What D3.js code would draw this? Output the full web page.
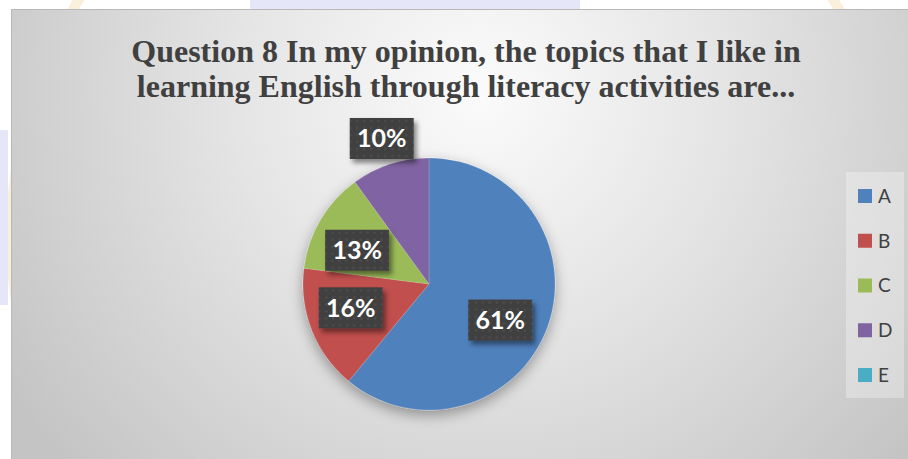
<!DOCTYPE html>
<html>
<head>
<meta charset="utf-8">
<script src="https://cdn.jsdelivr.net/npm/d3@7"></script>
<style>
  html, body { margin: 0; padding: 0; background: #ffffff; }
  svg { display: block; }
</style>
</head>
<body>
<svg id="chart" width="908" height="459"></svg>
<script>
// Survey answers for question 8 (share of respondents, %)
const categories = ["A", "B", "C", "D", "E"];
const values = [61, 16, 13, 10, 0];
const colors = ["#4f81bd", "#c0504d", "#9bbb59", "#8064a2", "#4bacc6"];
const titleLines = [
  "Question 8 In my opinion, the topics that I like in",
  "learning English through literacy activities are..."
];

const W = 908, H = 459;
const svg = d3.select("#chart");
const defs = svg.append("defs");

// chart backdrop gradient
const bg = defs.append("radialGradient").attr("id", "bgGrad")
  .attr("gradientUnits", "userSpaceOnUse")
  .attr("cx", 480).attr("cy", 90).attr("r", 560);
bg.append("stop").attr("offset", 0).attr("stop-color", "#fbfbfb");
bg.append("stop").attr("offset", 0.45).attr("stop-color", "#e4e4e4");
bg.append("stop").attr("offset", 1).attr("stop-color", "#c4c4c4");

// soft shadow for the pie
const pieShadow = defs.append("filter").attr("id", "pieShadow")
  .attr("x", "-20%").attr("y", "-20%").attr("width", "140%").attr("height", "140%");
pieShadow.append("feDropShadow").attr("dx", 0).attr("dy", 5)
  .attr("stdDeviation", 7).attr("flood-color", "#000").attr("flood-opacity", 0.35);

// shadow for data label boxes
const boxShadow = defs.append("filter").attr("id", "boxShadow")
  .attr("x", "-30%").attr("y", "-30%").attr("width", "160%").attr("height", "160%");
boxShadow.append("feDropShadow").attr("dx", 3).attr("dy", 4)
  .attr("stdDeviation", 2.5).attr("flood-color", "#000").attr("flood-opacity", 0.45);

// dotted texture for label boxes
const dots = defs.append("pattern").attr("id", "dots")
  .attr("patternUnits", "userSpaceOnUse").attr("width", 7).attr("height", 7);
dots.append("rect").attr("width", 7).attr("height", 7).attr("fill", "#3f3f3f");
dots.append("circle").attr("cx", 3.5).attr("cy", 3.5).attr("r", 1.3).attr("fill", "#4e4e4e");

// faint letterhead emblem behind the chart frame
const mark = svg.append("g").attr("opacity", 0.35);
mark.append("circle").attr("cx", 456).attr("cy", 236).attr("r", 445)
  .attr("fill", "none").attr("stroke", "#f0d49a").attr("stroke-width", 10);
mark.append("rect").attr("x", 250).attr("y", 0).attr("width", 330).attr("height", 10)
  .attr("fill", "#b9b9f0");
mark.append("rect").attr("x", 0).attr("y", 130).attr("width", 8).attr("height", 175)
  .attr("fill", "#b9b9f0");

// chart frame
svg.append("rect").attr("x", 11.5).attr("y", 9.5)
  .attr("width", W).attr("height", H)
  .attr("fill", "url(#bgGrad)").attr("stroke", "#b8b8b8").attr("stroke-width", 1);

// title
const title = svg.append("text")
  .attr("text-anchor", "middle")
  .attr("font-family", "'Liberation Serif', 'Times New Roman', serif")
  .attr("font-weight", "bold")
  .attr("font-size", 32)
  .attr("fill", "#404040");
titleLines.forEach((t, i) => {
  title.append("tspan").attr("x", 466).attr("y", 62 + i * 35).text(t);
});

// pie
const cx = 429, cy = 284, R = 126;
const pie = d3.pie().sort(null).value(d => d.value);
const arcs = pie(categories.map((c, i) => ({ cat: c, value: values[i], color: colors[i] })));
const arc = d3.arc().innerRadius(0).outerRadius(R);

const gPie = svg.append("g").attr("transform", `translate(${cx},${cy})`);
gPie.append("g").attr("filter", "url(#pieShadow)")
  .selectAll("path").data(arcs.filter(d => d.data.value > 0)).join("path")
  .attr("d", arc)
  .attr("fill", d => d.data.color)
  .attr("stroke", "#ffffff").attr("stroke-opacity", 0.25).attr("stroke-width", 0.6);

// data labels: inside for the large slices, outside for D
const labelRadius = { A: 80, B: 81, C: 80, D: 153 };
const labelNudge = { A: [-4, 9], B: [-3, -6], C: [-3, 7], D: [0, 0] };
const boxW = 64, boxH = 41;
const labels = gPie.append("g").selectAll("g")
  .data(arcs.filter(d => d.data.value > 0)).join("g")
  .attr("transform", d => {
    const r = labelRadius[d.data.cat];
    const [x, y] = d3.arc().innerRadius(r).outerRadius(r).centroid(d);
    const n = labelNudge[d.data.cat];
    return `translate(${x + n[0]},${y + n[1]})`;
  });
labels.append("rect")
  .attr("x", -boxW / 2).attr("y", -boxH / 2)
  .attr("width", boxW).attr("height", boxH)
  .attr("fill", "url(#dots)")
  .attr("filter", "url(#boxShadow)");
labels.append("text")
  .attr("text-anchor", "middle")
  .attr("dy", "0.36em")
  .attr("font-family", "Lato, 'Open Sans', sans-serif")
  .attr("font-weight", "bold")
  .attr("font-size", 25)
  .attr("fill", "#ffffff")
  .text(d => d3.format(".0%")(d.data.value / 100));

// legend
const legend = svg.append("g");
legend.append("rect").attr("x", 846).attr("y", 172).attr("width", 58).attr("height", 226)
  .attr("fill", "#ffffff").attr("fill-opacity", 0.3);
const ly = d3.scalePoint().domain(categories).range([196, 375]);
const items = legend.selectAll("g.item").data(categories).join("g")
  .attr("class", "item")
  .attr("transform", d => `translate(858,${ly(d)})`);
items.append("rect").attr("x", 0).attr("y", -7).attr("width", 14).attr("height", 14)
  .attr("fill", (d, i) => colors[i]);
items.append("text").attr("x", 20).attr("dy", "0.36em")
  .attr("font-family", "Lato, 'Open Sans', sans-serif")
  .attr("font-size", 19)
  .attr("fill", "#404040")
  .text(d => d);
</script>
</body>
</html>
